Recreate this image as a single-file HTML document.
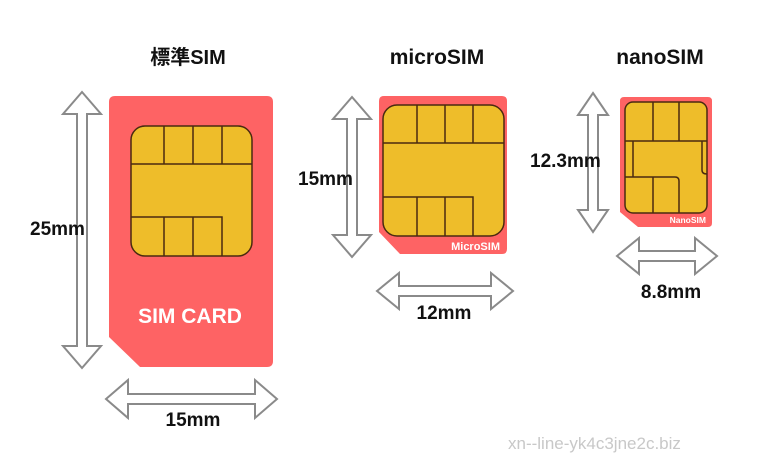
<!DOCTYPE html>
<html><head><style>
html,body{margin:0;padding:0;background:#fff;}
svg{display:block;}
text{font-family:"Liberation Sans","Noto Sans CJK JP",sans-serif;}
</style></head><body>
<svg id="s" width="764" height="458" xmlns="http://www.w3.org/2000/svg">
<!-- Standard -->
<path d="M115,96 H267 Q273,96 273,102 V361 Q273,367 267,367 H140 L109,337 V102 Q109,96 115,96 Z" fill="#fe6364"/>
<rect x="131" y="126" width="121" height="130" rx="14" fill="#eebd2a" stroke="#4a2a10" stroke-width="1.5"/>
<path d="M131,164 H252 M131,217 H222 V256 M164,126 V164 M193,126 V164 M222,126 V164 M164,217 V256 M193,217 V256" stroke="#4a2a10" stroke-width="1.5" fill="none"/>
<text x="190" y="323" text-anchor="middle" font-size="21" font-weight="bold" fill="#fff">SIM CARD</text>
<!-- Micro -->
<path d="M384,96 H502 Q507,96 507,101 V249 Q507,254 502,254 H400 L379,232 V101 Q379,96 384,96 Z" fill="#fe6364"/>
<rect x="383" y="105" width="121" height="131" rx="14" fill="#eebd2a" stroke="#4a2a10" stroke-width="1.5"/>
<path d="M383,143 H504 M383,197 H473 V236 M417,105 V143 M445,105 V143 M473,105 V143 M417,197 V236 M445,197 V236" stroke="#4a2a10" stroke-width="1.5" fill="none"/>
<text x="500" y="250" text-anchor="end" font-size="11" font-weight="bold" fill="#fff">MicroSIM</text>
<!-- Nano -->
<path d="M624,97 H708 Q712,97 712,101 V223 Q712,227 708,227 H638 L620,212 V101 Q620,97 624,97 Z" fill="#fe6364"/>
<rect x="625" y="102" width="82" height="111" rx="8" fill="#eebd2a" stroke="#4a2a10" stroke-width="1.5"/>
<path d="M625,141 H707 M653,102 V141 M679,102 V141 M633,141 V177 M625,177 H675 Q679,177 679,181 V213 M653,177 V213 M702,141 V170 Q702,174 707,174" stroke="#4a2a10" stroke-width="1.5" fill="none"/>
<text x="706" y="223" text-anchor="end" font-size="8.5" font-weight="bold" fill="#fff">NanoSIM</text>
<g id="arrows"></g>
<!-- labels -->
<text x="188" y="64" text-anchor="middle" font-size="20" font-weight="bold" fill="#111">標準SIM</text>
<text x="437" y="64" text-anchor="middle" font-size="21" font-weight="bold" fill="#111">microSIM</text>
<text x="660" y="64" text-anchor="middle" font-size="21" font-weight="bold" fill="#111">nanoSIM</text>
<text x="30" y="235" font-size="19" font-weight="bold" fill="#111">25mm</text>
<text x="193" y="426" text-anchor="middle" font-size="19" font-weight="bold" fill="#111">15mm</text>
<text x="298" y="185" font-size="19" font-weight="bold" fill="#111">15mm</text>
<text x="444" y="319" text-anchor="middle" font-size="19" font-weight="bold" fill="#111">12mm</text>
<text x="530" y="167" font-size="19" font-weight="bold" fill="#111">12.3mm</text>
<text x="671" y="298" text-anchor="middle" font-size="19" font-weight="bold" fill="#111">8.8mm</text>
<text x="508" y="449" font-size="17" fill="#c8c8c8">xn--line-yk4c3jne2c.biz</text>
</svg>
<script>
var g=document.getElementById('arrows'),NS='http://www.w3.org/2000/svg';
function poly(pts){var p=document.createElementNS(NS,'polygon');p.setAttribute('points',pts.map(function(a){return a.join(',')}).join(' '));p.setAttribute('fill','#fff');p.setAttribute('stroke','#8a8a8a');p.setAttribute('stroke-width','2');g.appendChild(p);}
function v(cx,y1,y2,hw,hl,sw){poly([[cx,y1],[cx+hw,y1+hl],[cx+sw,y1+hl],[cx+sw,y2-hl],[cx+hw,y2-hl],[cx,y2],[cx-hw,y2-hl],[cx-sw,y2-hl],[cx-sw,y1+hl],[cx-hw,y1+hl]]);}
function h(cy,x1,x2,hw,hl,sw){poly([[x1,cy],[x1+hl,cy-hw],[x1+hl,cy-sw],[x2-hl,cy-sw],[x2-hl,cy-hw],[x2,cy],[x2-hl,cy+hw],[x2-hl,cy+sw],[x1+hl,cy+sw],[x1+hl,cy+hw]]);}
v(82,92,368,19,22,5);h(399,106,277,19,22,5);
v(352,97,257,19,22,5);h(291,377,513,18,22,5);
v(593,93,232,15,22,5);h(256,617,717,18,22,5);
</script>
</body></html>
